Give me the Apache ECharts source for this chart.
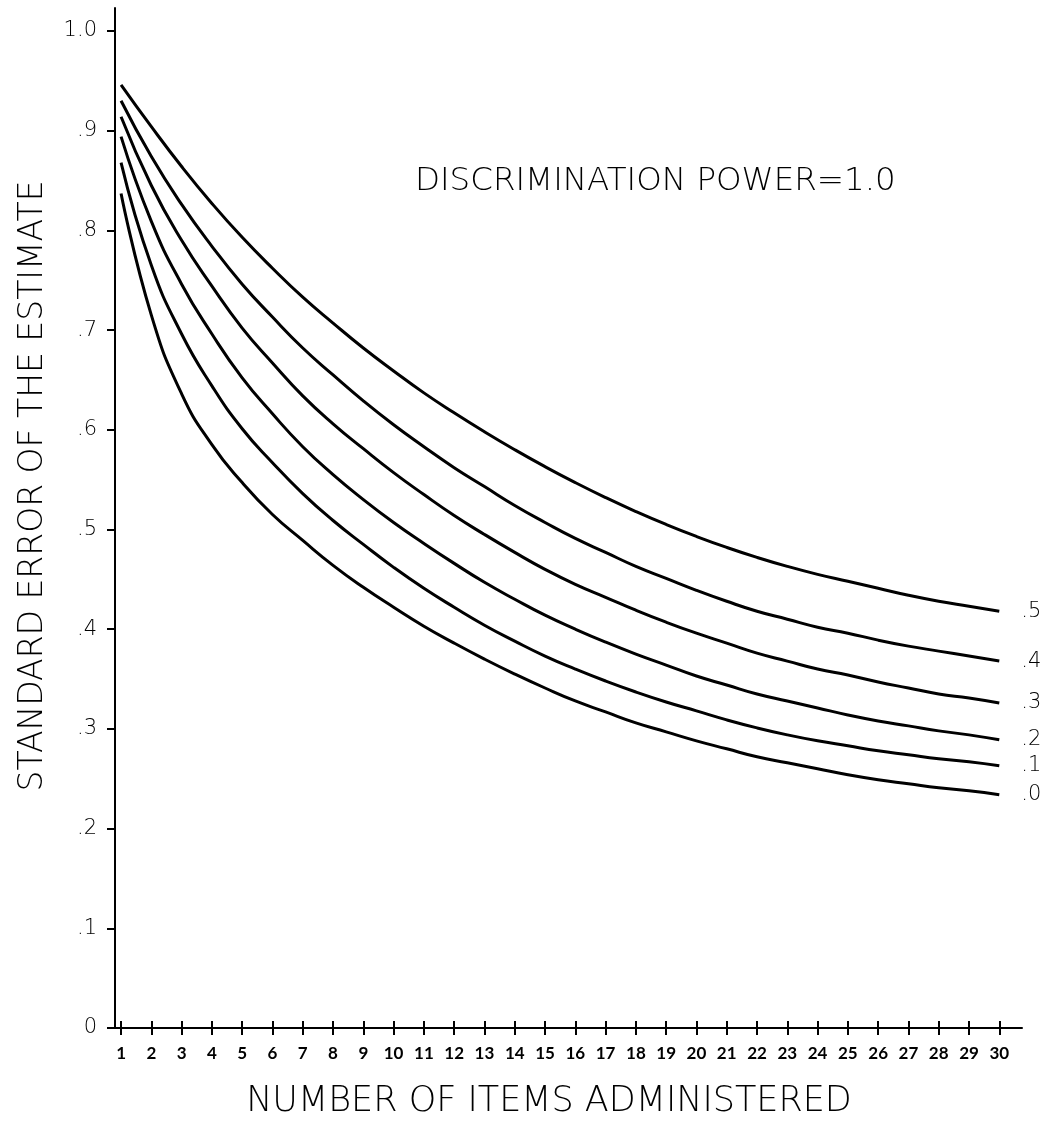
<!DOCTYPE html>
<html>
<head>
<meta charset="utf-8">
<script src="https://cdn.jsdelivr.net/npm/echarts@6/dist/echarts.min.js"></script>
<style>
html,body{margin:0;padding:0;background:#fff;}
#chart{width:1048px;height:1125px;}
</style>
</head>
<body>
<div id="chart"></div>
<script>
// ---- data ----
const items = [1,2,3,4,5,6,7,8,9,10,11,12,13,14,15,16,17,18,19,20,21,22,23,24,25,26,27,28,29,30];
const curveLabels = ['.5','.4','.3','.2','.1','.0'];
const se5 = [.946,.904,.864,.827,.793,.762,.733,.707,.682,.659,.637,.617,.598,.580,.563,.547,.532,.518,.505,.493,.482,.472,.463,.455,.448,.441,.434,.428,.423,.418];
const se4 = [.930,.874,.826,.784,.746,.713,.682,.655,.629,.605,.583,.562,.543,.524,.507,.491,.477,.463,.451,.439,.428,.418,.410,.402,.396,.389,.383,.378,.373,.368];
const se3 = [.914,.845,.790,.744,.702,.667,.634,.606,.581,.557,.535,.514,.495,.477,.460,.445,.432,.419,.407,.396,.386,.376,.368,.360,.354,.347,.341,.335,.331,.326];
const se2 = [.894,.809,.746,.696,.652,.616,.583,.555,.530,.507,.486,.466,.447,.430,.414,.400,.387,.375,.364,.353,.344,.335,.328,.321,.314,.308,.303,.298,.294,.289];
const se1 = [.868,.765,.696,.644,.601,.567,.536,.509,.485,.462,.441,.422,.404,.388,.373,.360,.348,.337,.327,.318,.309,.301,.294,.288,.283,.278,.274,.270,.267,.263];
const se0 = [.837,.715,.636,.585,.547,.515,.489,.464,.442,.422,.403,.386,.370,.355,.341,.328,.317,.306,.297,.288,.280,.272,.266,.260,.254,.249,.245,.241,.238,.234];
const yTicks = [0,.1,.2,.3,.4,.5,.6,.7,.8,.9,1.0];
const yTickLabels = ['0','.1','.2','.3','.4','.5','.6','.7','.8','.9','1.0'];
const titleText = 'DISCRIMINATION POWER=1.0';
const xTitle = 'NUMBER OF ITEMS ADMINISTERED';
const yTitle = 'STANDARD ERROR OF THE ESTIMATE';

const allSeries = [se5, se4, se3, se2, se1, se0];
const TFONT = '"DejaVu Sans", sans-serif';
const NFONT = 'Lato, "Noto Sans", sans-serif';

const chart = echarts.init(document.getElementById('chart'), null, {renderer:'canvas'});

const series = allSeries.map((vals, i) => ({
  type: 'line',
  name: curveLabels[i],
  data: items.map((n, j) => [n, vals[j]]),
  smooth: true,
  symbol: 'none',
  lineStyle: {color: '#000', width: 3},
  endLabel: {
    show: true,
    formatter: curveLabels[i],
    color: '#000',
    fontFamily: TFONT,
    fontWeight: 200,
    fontSize: 21,
    distance: 22
  },
  animation: false
}));

const option = {
  backgroundColor: '#fff',
  animation: false,
  title: {
    text: titleText,
    left: 410,
    top: 160,
    textStyle: {fontFamily: TFONT, fontSize: 32.5, fontWeight: 200, color: '#000'}
  },
  graphic: [
    {type: 'text', x: 549, y: 1102, style: {text: xTitle, fontFamily: TFONT, fontSize: 35, fontWeight: 200, fill: '#000', align: 'center', verticalAlign: 'middle'}},
    {type: 'text', x: 33, y: 486, rotation: Math.PI / 2, style: {text: yTitle, fontFamily: TFONT, fontSize: 33, fontWeight: 200, fill: '#000', align: 'center', verticalAlign: 'middle'}}
  ],
  grid: {left: 115, right: 26, top: 8, bottom: 97, containLabel: false},
  xAxis: [{
    type: 'value',
    min: 0.8,
    max: 30.75,
    axisLine: {show: true, onZero: false, lineStyle: {color: '#000', width: 2}},
    axisTick: {show: true, inside: false, length: 7, customValues: items, lineStyle: {color: '#000', width: 2}},
    axisLabel: {show: true, customValues: items, margin: 17, fontFamily: NFONT, fontSize: 17, fontWeight: 'bold', color: '#000'},
    splitLine: {show: false}
  },{
    type: 'value',
    min: 0.8,
    max: 30.75,
    position: 'bottom',
    offset: 0,
    axisLine: {show: false},
    axisTick: {show: true, inside: true, length: 7, customValues: items, lineStyle: {color: '#000', width: 2}},
    axisLabel: {show: false},
    splitLine: {show: false}
  }],
  yAxis: {
    type: 'value',
    min: 0,
    max: 1.023,
    axisLine: {show: true, onZero: false, lineStyle: {color: '#000', width: 2}},
    axisTick: {show: true, length: 8, customValues: yTicks, lineStyle: {color: '#000', width: 2}},
    axisLabel: {
      show: true,
      customValues: yTicks,
      margin: 18,
      fontFamily: TFONT,
      fontWeight: 200,
      fontSize: 21,
      color: '#000',
      formatter: function (v) {
        const idx = yTicks.findIndex(t => Math.abs(t - v) < 1e-6);
        return idx >= 0 ? yTickLabels[idx] : '';
      }
    },
    splitLine: {show: false}
  },
  series: series
};
chart.setOption(option);
</script>
</body>
</html>
